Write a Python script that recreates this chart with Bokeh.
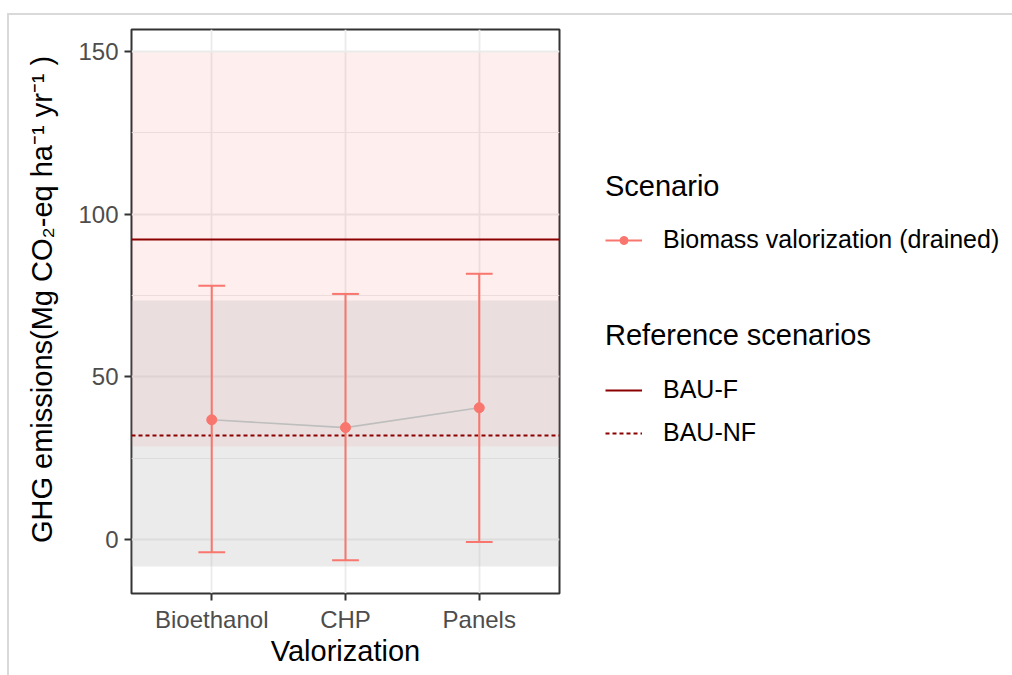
from bokeh.plotting import figure
from bokeh.layouts import row
from bokeh.models import (FactorRange, Range1d, FixedTicker, Legend, LegendItem,
                          ColumnDataSource)
from bokeh.transform import dodge
from bokeh.embed import file_html
from bokeh.resources import INLINE

# ---- data -------------------------------------------------------------
categories = ["Bioethanol", "CHP", "Panels"]
mean_emissions = [36.8, 34.4, 40.5]
lower_emissions = [-3.9, -6.4, -0.8]
upper_emissions = [78.0, 75.5, 81.7]

bau_f_value = [92.2]
bau_f_band_low = [28.7]
bau_f_band_high = [149.6]

bau_nf_value = [31.9]
bau_nf_band_low = [-8.3]
bau_nf_band_high = [73.5]

y_ticks = [0, 50, 100, 150]
y_minor_ticks = [-25, 25, 75, 125]

scenario_title = "Scenario"
scenario_label = "Biomass valorization (drained)"
reference_title = "Reference scenarios"
reference_labels = ["BAU-F", "BAU-NF"]

# ---- styles -----------------------------------------------------------
FONT = "Liberation Sans"
RED = "#F8766D"
DARKRED = "#8B0000"
BAND_RED_ALPHA = 0.12
BAND_GREY = "#BEBEBE"

p = figure(
    x_range=FactorRange(factors=categories, range_padding=0.1,
                        range_padding_units="absolute"),
    y_range=Range1d(-16.6, 156.8),
    width=552, height=660,
    min_border_left=122, min_border_right=2,
    min_border_top=14, min_border_bottom=82,
    output_backend="svg", toolbar_location=None,
)

p.background_fill_color = "white"
p.border_fill_color = "white"
p.outline_line_color = "#333333"
p.outline_line_width = 2

p.xgrid.grid_line_color = "#EBEBEB"
p.xgrid.grid_line_width = 1.8
p.ygrid.grid_line_color = "#EBEBEB"
p.ygrid.grid_line_width = 1.8
p.ygrid.minor_grid_line_color = "#EBEBEB"
p.ygrid.minor_grid_line_width = 1.2
p.yaxis.ticker = FixedTicker(ticks=y_ticks, minor_ticks=y_minor_ticks)

for ax in (p.xaxis[0], p.yaxis[0]):
    ax.axis_line_color = None
    ax.major_tick_line_color = "#333333"
    ax.major_tick_line_width = 2
    ax.major_tick_out = 7
    ax.major_tick_in = 0
    ax.minor_tick_line_color = None
    ax.major_label_text_font = FONT
    ax.major_label_text_font_size = "24px"
    ax.major_label_text_color = "#4D4D4D"
    ax.axis_label_text_font = FONT
    ax.axis_label_text_font_size = "29px"
    ax.axis_label_text_font_style = "normal"
    ax.axis_label_text_color = "black"

p.xaxis.axis_label = "Valorization"
p.xaxis.major_label_standoff = 5
p.xaxis.axis_label_standoff = -1
p.yaxis.axis_label = ("\u00a0\u00a0\u00a0GHG emissions(Mg CO\u2082-eq ha\u207b\u00b9 "
                      "yr\u207b\u00b9 )")
p.yaxis.major_label_standoff = 6
p.yaxis.axis_label_standoff = 17

# ---- reference bands and lines -----------------------------------------
p.hstrip(y0=bau_f_band_low, y1=bau_f_band_high, fill_color=RED,
         fill_alpha=BAND_RED_ALPHA, line_color=None)
p.hstrip(y0=bau_nf_band_low, y1=bau_nf_band_high, fill_color=BAND_GREY,
         fill_alpha=0.3, line_color=None)

p.hspan(y=bau_f_value, line_color=DARKRED, line_width=2)
p.hspan(y=bau_nf_value, line_color=DARKRED, line_width=2, line_dash="4 3")

# ---- scenario ---------------------------------------------------------
src = ColumnDataSource(dict(cat=categories, mean=mean_emissions,
                            lower=lower_emissions, upper=upper_emissions))

p.line(x="cat", y="mean", source=src, line_color="#BEBEBE", line_width=1.6)
p.segment(x0="cat", y0="lower", x1="cat", y1="upper", source=src,
          line_color=RED, line_width=2)
for col in ("upper", "lower"):
    p.segment(x0=dodge("cat", -0.1, range=p.x_range), y0=col,
              x1=dodge("cat", 0.1, range=p.x_range), y1=col, source=src,
              line_color=RED, line_width=2)
p.scatter(x="cat", y="mean", source=src, size=10, fill_color=RED, line_color=RED)

# ---- legend panel -----------------------------------------------------
# key glyphs live outside the visible range of this panel; only the legend
# draws them
lp = figure(width=451, height=660, x_range=Range1d(0, 1), y_range=Range1d(0, 1),
            x_axis_type=None, y_axis_type=None, min_border=0,
            output_backend="svg", toolbar_location=None)
lp.outline_line_color = None
lp.grid.visible = False
lp.background_fill_color = "white"
lp.border_fill_color = "white"

key_bar = lp.segment(x0=[-5], y0=[-5], x1=[-5], y1=[-4], line_color=RED, line_width=2)
key_pt = lp.scatter(x=[-5], y=[-5], size=10, fill_color=RED, line_color=RED)
key_f = lp.hspan(y=[-5], line_color=DARKRED, line_width=2)
key_nf = lp.hspan(y=[-5], line_color=DARKRED, line_width=2, line_dash="4 3")


def make_legend(title, items, loc, standoff):
    lg = Legend(items=items, title=title, location=loc)
    lg.title_text_font = FONT
    lg.title_text_font_size = "29px"
    lg.title_text_font_style = "normal"
    lg.title_text_color = "black"
    lg.title_standoff = standoff
    lg.label_text_font = FONT
    lg.label_text_font_size = "25px"
    lg.label_text_color = "black"
    lg.glyph_width = 37
    lg.glyph_height = 20
    lg.label_standoff = 21
    lg.spacing = 14
    lg.padding = 0
    lg.margin = 0
    lg.border_line_color = None
    lg.background_fill_alpha = 0
    return lg


leg1 = make_legend(scenario_title,
                   [LegendItem(label=scenario_label, renderers=[key_bar, key_pt])],
                   (44, 339), 22)
leg2 = make_legend(reference_title,
                   [LegendItem(label=reference_labels[0], renderers=[key_f]),
                    LegendItem(label=reference_labels[1], renderers=[key_nf])],
                   (44, 146), 23)
lp.add_layout(leg1)
lp.add_layout(leg2)

layout = row(p, lp, styles={"border-left": "2px solid #D9D9D9",
                            "border-top": "2px solid #D9D9D9",
                            "margin-top": "13px", "margin-left": "7px"})

open("out.html", "w").write(file_html(layout, INLINE))
